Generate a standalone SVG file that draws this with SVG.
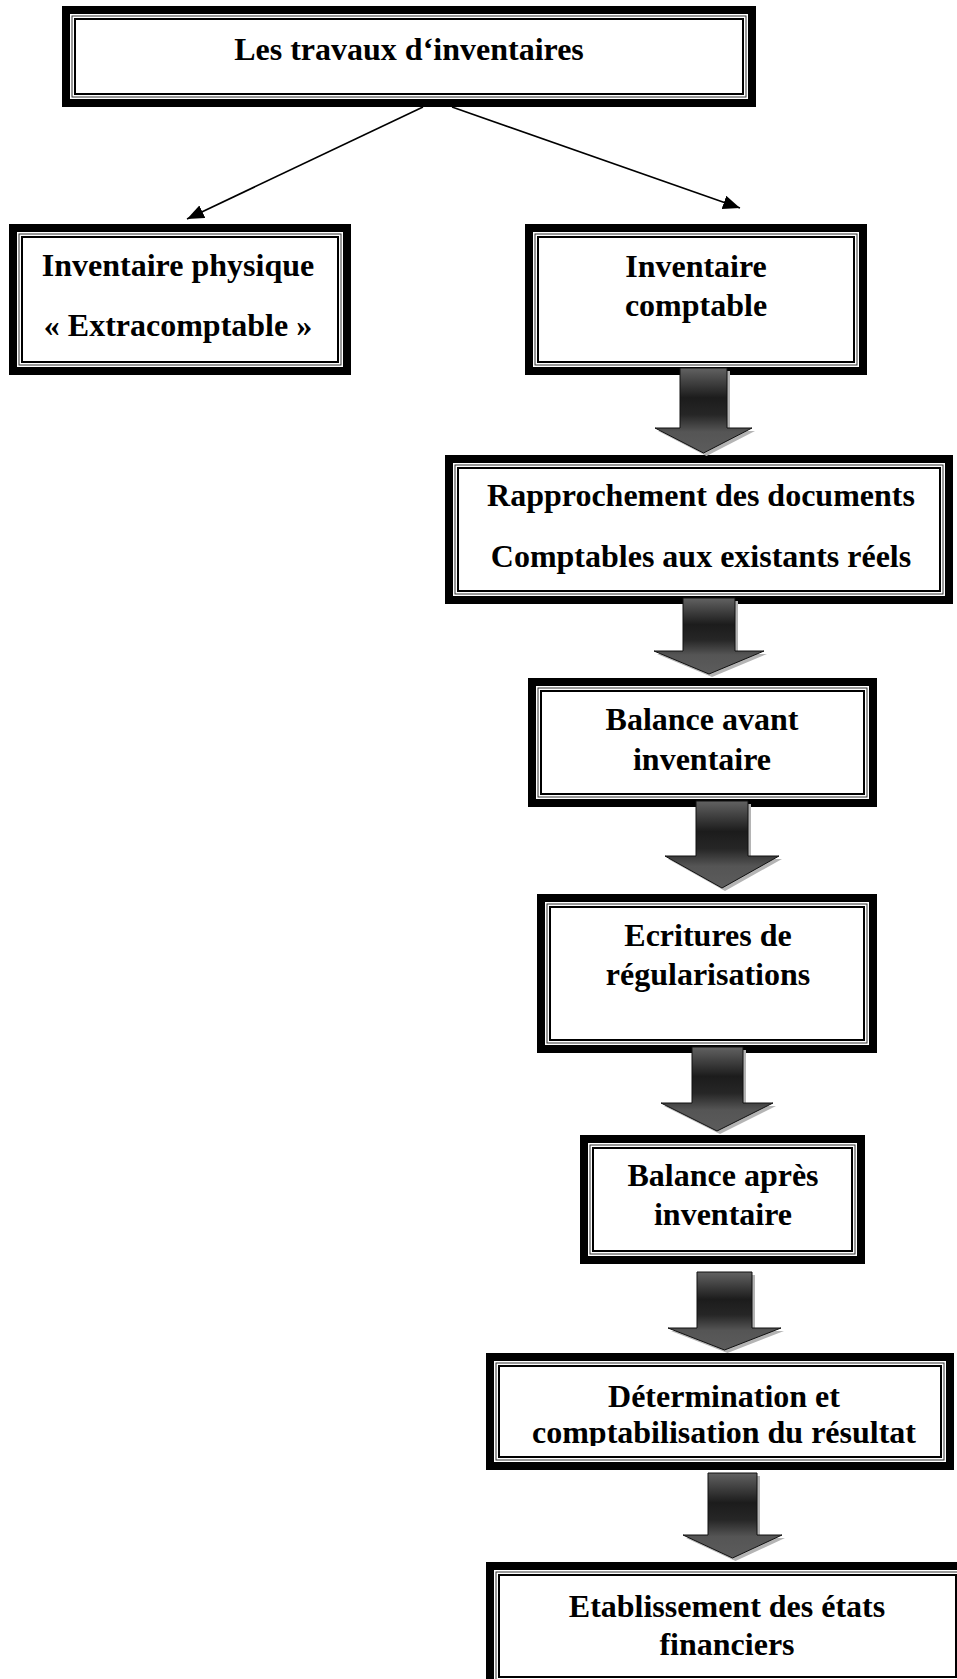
<svg xmlns="http://www.w3.org/2000/svg" width="957" height="1679" viewBox="0 0 957 1679">
<style>
.o{fill:#fff;stroke:#000;stroke-width:8}
.t{fill:none;stroke:#333;stroke-width:1}
.i{fill:none;stroke:#000;stroke-width:2}
.lbl{font-family:"Liberation Serif","Times New Roman",serif;font-weight:bold;font-size:32px;fill:#000;text-anchor:middle}
.con{stroke:#000;stroke-width:1.6;fill:none}
.arr{fill:url(#g);stroke:#111;stroke-width:1}
.sh{fill:#b4b4b4}
</style>
<defs>
<linearGradient id="g" x1="0" y1="0" x2="0" y2="1">
<stop offset="0" stop-color="#626262"/>
<stop offset="0.35" stop-color="#1c1c1c"/>
<stop offset="0.55" stop-color="#262626"/>
<stop offset="0.75" stop-color="#555"/>
<stop offset="1" stop-color="#5c5c5c"/>
</linearGradient>
<marker id="ah" markerUnits="userSpaceOnUse" markerWidth="20" markerHeight="16" refX="17" refY="7" orient="auto">
<path d="M0,0 L17,7 L0,14 Z" fill="#000"/>
</marker>
<clipPath id="cdet"><rect x="499" y="1366" width="442" height="80"/></clipPath>
</defs>

<g id="connectors">
<line class="con" x1="423" y1="107" x2="187" y2="219" marker-end="url(#ah)"/>
<line class="con" x1="452" y1="107" x2="740" y2="208" marker-end="url(#ah)"/>
</g>

<g id="n-top">
<rect class="o" x="66" y="10" width="686" height="93"/>
<rect class="t" x="72" y="16" width="674" height="81"/>
<rect class="i" x="75" y="19" width="668" height="75"/>
<text class="lbl" x="409" y="60">Les travaux d‘inventaires</text>
</g>

<g id="n-physique">
<rect class="o" x="13" y="228" width="334" height="143"/>
<rect class="t" x="19" y="234" width="322" height="131"/>
<rect class="i" x="22" y="237" width="316" height="125"/>
<text class="lbl" x="178" y="276">Inventaire physique</text>
<text class="lbl" x="178" y="336">« Extracomptable »</text>
</g>

<g id="n-comptable">
<rect class="o" x="529" y="228" width="334" height="143"/>
<rect class="t" x="535" y="234" width="322" height="131"/>
<rect class="i" x="538" y="237" width="316" height="125"/>
<text class="lbl" x="696" y="277">Inventaire</text>
<text class="lbl" x="696" y="316">comptable</text>
</g>

<g id="n-rapprochement">
<rect class="o" x="449" y="459" width="500" height="141"/>
<rect class="t" x="455" y="465" width="488" height="129"/>
<rect class="i" x="458" y="468" width="482" height="123"/>
<text class="lbl" x="701" y="506">Rapprochement des documents</text>
<text class="lbl" x="701" y="567">Comptables aux existants réels</text>
</g>

<g id="n-balance-avant">
<rect class="o" x="532" y="682" width="341" height="121"/>
<rect class="t" x="538" y="688" width="329" height="109"/>
<rect class="i" x="541" y="691" width="323" height="103"/>
<text class="lbl" x="702" y="730">Balance avant</text>
<text class="lbl" x="702" y="770">inventaire</text>
</g>

<g id="n-ecritures">
<rect class="o" x="541" y="898" width="332" height="151"/>
<rect class="t" x="547" y="904" width="320" height="139"/>
<rect class="i" x="550" y="907" width="314" height="133"/>
<text class="lbl" x="708" y="946">Ecritures de</text>
<text class="lbl" x="708" y="985">régularisations</text>
</g>

<g id="n-balance-apres">
<rect class="o" x="584" y="1139" width="277" height="121"/>
<rect class="t" x="590" y="1145" width="265" height="109"/>
<rect class="i" x="593" y="1148" width="259" height="103"/>
<text class="lbl" x="723" y="1186">Balance après</text>
<text class="lbl" x="723" y="1225">inventaire</text>
</g>

<g id="n-determination">
<rect class="o" x="490" y="1357" width="460" height="109"/>
<rect class="t" x="496" y="1363" width="448" height="97"/>
<rect class="i" x="499" y="1366" width="442" height="91"/>
<text class="lbl" x="724" y="1407">Détermination et</text>
<g clip-path="url(#cdet)"><text class="lbl" x="724" y="1443">comptabilisation du résultat</text></g>
</g>

<g id="n-etablissement">
<rect class="o" x="490" y="1566" width="475" height="120"/>
<rect class="t" x="496" y="1572" width="463" height="108"/>
<rect class="i" x="499" y="1575" width="457" height="102"/>
<text class="lbl" x="727" y="1617">Etablissement des états</text>
<text class="lbl" x="727" y="1655">financiers</text>
</g>

<g id="flow-arrows">
<polygon class="sh" transform="translate(3,3)" points="680,368 727,368 727,428 752,428 703.5,453 655,428 680,428"/>
<polygon class="arr" points="680,368 727,368 727,428 752,428 703.5,453 655,428 680,428"/>

<polygon class="sh" transform="translate(3,3)" points="683,598 735,598 735,651 764,651 709,674 654,651 683,651"/>
<polygon class="arr" points="683,598 735,598 735,651 764,651 709,674 654,651 683,651"/>

<polygon class="sh" transform="translate(3,3)" points="696,801 748,801 748,856 779,856 722,888 665,856 696,856"/>
<polygon class="arr" points="696,801 748,801 748,856 779,856 722,888 665,856 696,856"/>

<polygon class="sh" transform="translate(3,3)" points="692,1047 743,1047 743,1103 773,1103 717,1131 661,1103 692,1103"/>
<polygon class="arr" points="692,1047 743,1047 743,1103 773,1103 717,1131 661,1103 692,1103"/>

<polygon class="sh" transform="translate(3,3)" points="697,1272 752,1272 752,1328 781,1328 724.5,1350 668,1328 697,1328"/>
<polygon class="arr" points="697,1272 752,1272 752,1328 781,1328 724.5,1350 668,1328 697,1328"/>

<polygon class="sh" transform="translate(3,3)" points="708,1473 757,1473 757,1535 782,1535 732.5,1558 683,1535 708,1535"/>
<polygon class="arr" points="708,1473 757,1473 757,1535 782,1535 732.5,1558 683,1535 708,1535"/>
</g>
</svg>
